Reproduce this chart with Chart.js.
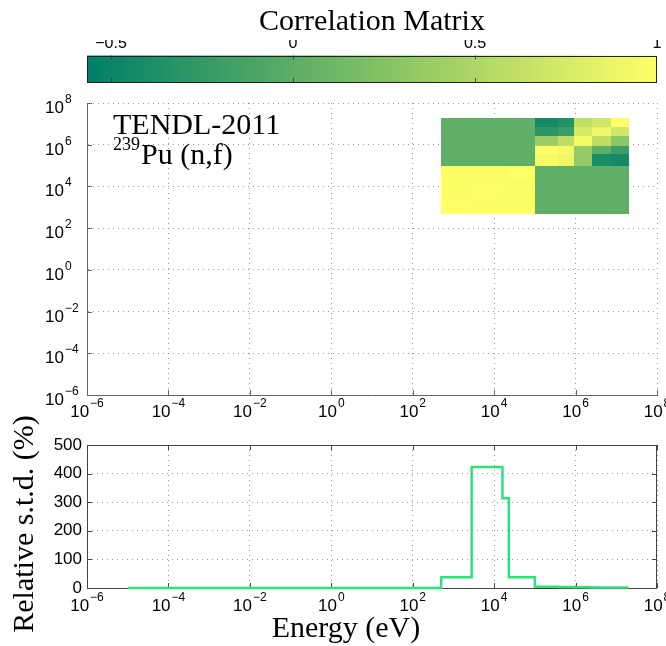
<!DOCTYPE html>
<html><head><meta charset="utf-8">
<script src="https://cdn.jsdelivr.net/npm/chart.js@4/dist/chart.umd.min.js"></script>
<style>
html,body{margin:0;padding:0;background:#fff;}
#wrap{position:relative;width:666px;height:646px;background:#fff;}
canvas{position:absolute;left:0;top:0;}
</style></head><body>
<div id="wrap">
<canvas id="cbar" width="666" height="646"></canvas>
<canvas id="main" width="666" height="646"></canvas>
<canvas id="bottom" width="666" height="646"></canvas>
</div>
<script>
// ---------------- data ----------------
const energyEdges = [1e-5, 500, 2800, 16000, 23000, 1e5, 3.7e5, 9e5, 2.5e6, 7.3e6, 2e7];
const relStd      = [0, 37.5, 423.5, 313.7, 37.5, 4, 3.5, 2.5, 2, 1.5];
const covEdges    = [500, 2800, 16000, 23000, 1e5, 3.7e5, 9e5, 2.5e6, 7.3e6, 2e7];
// correlation[i][j]: i = y group (low -> high energy), j = x group
const correlation = [
  [1.00, 0.99, 0.99, 0.99, 0.02, 0.02, 0.02, 0.02, 0.02],
  [0.99, 1.00, 0.99, 0.99, 0.02, 0.02, 0.02, 0.02, 0.02],
  [0.99, 0.99, 1.00, 0.99, 0.02, 0.02, 0.02, 0.02, 0.02],
  [0.99, 0.99, 0.99, 1.00, 0.02, 0.02, 0.02, 0.02, 0.02],
  [0.02, 0.02, 0.02, 0.02, 0.95, 0.90, 0.35, -0.40, -0.45],
  [0.02, 0.02, 0.02, 0.02, 1.00, 0.95, 0.35, 0.00, -0.20],
  [0.02, 0.02, 0.02, 0.02, 0.40, 0.60, 0.95, 0.60, 0.30],
  [0.02, 0.02, 0.02, 0.02, -0.30, -0.20, 0.75, 0.90, 0.70],
  [0.02, 0.02, 0.02, 0.02, -0.45, -0.35, 0.60, 0.70, 1.00]
];
const cbarMin = -0.566, cbarMax = 1.0;
const colorbarTicks = [-0.5, 0, 0.5, 1];
const xTickExponents = [-6, -4, -2, 0, 2, 4, 6, 8];
const yTickExponents = [-6, -4, -2, 0, 2, 4, 6, 8];
const stdTicks = [0, 100, 200, 300, 400, 500];
const titleText = 'Correlation Matrix';
const libText = 'TENDL-2011';
const massText = '239';
const reactionText = 'Pu (n,f)';
const xLabelText = 'Energy (eV)';
const yLabelText = 'Relative s.t.d. (%)';

// ---------------- helpers ----------------
const SANS = "'Liberation Sans', Arial, sans-serif";
const SERIF = "'Liberation Serif', 'Times New Roman', serif";
const BASE_FONT = "17px " + SANS;
const SUP_FONT = "12px " + SANS;
const GRID_COLOR = 'rgba(110,110,110,0.7)';
const GRID_DASH = [1, 4];

function summer(v) {
  let t = (v - cbarMin) / (cbarMax - cbarMin);
  t = Math.max(0, Math.min(1, t));
  return 'rgb(' + Math.round(255 * t) + ',' + Math.round(255 * (0.5 + 0.5 * t)) + ',102)';
}
function drawPower(ctx, exp, x, baseY, align) {
  const base = '10';
  const sup = (exp < 0 ? '\u2212' : '') + Math.abs(exp);
  ctx.font = BASE_FONT; const wb = ctx.measureText(base).width;
  ctx.font = SUP_FONT; const ws = ctx.measureText(sup).width;
  const x0 = align === 'center' ? x - (wb + ws + 1) / 2 : x;
  ctx.fillStyle = '#000';
  ctx.textAlign = 'left'; ctx.textBaseline = 'alphabetic';
  ctx.font = BASE_FONT; ctx.fillText(base, x0, baseY);
  ctx.font = SUP_FONT; ctx.fillText(sup, x0 + wb + 1, baseY - 10);
}
function logTicks(exps) {
  return function (scale) { scale.ticks = exps.map(e => ({ value: Math.pow(10, e) })); };
}
function inwardTicks(ctx, scale, area, sides, len, color) {
  ctx.save();
  ctx.strokeStyle = color; ctx.lineWidth = 1; ctx.beginPath();
  scale.ticks.forEach(t => {
    const p = Math.round(scale.getPixelForValue(t.value)) + 0.5;
    if (scale.isHorizontal()) {
      if (sides.includes('bottom')) { ctx.moveTo(p, area.bottom); ctx.lineTo(p, area.bottom - len); }
      if (sides.includes('top')) { ctx.moveTo(p, area.top); ctx.lineTo(p, area.top + len); }
    } else {
      if (sides.includes('left')) { ctx.moveTo(area.left, p); ctx.lineTo(area.left + len, p); }
      if (sides.includes('right')) { ctx.moveTo(area.right, p); ctx.lineTo(area.right - len, p); }
    }
  });
  ctx.stroke(); ctx.restore();
}

// ---------------- colorbar ----------------
const cbarPlugin = {
  id: 'cbarPlugin',
  beforeDatasetsDraw(chart) {
    const { ctx, chartArea: a, scales: { x } } = chart;
    ctx.save();
    for (let px = Math.floor(a.left); px < Math.ceil(a.right); px++) {
      ctx.fillStyle = summer(x.getValueForPixel(px + 0.5));
      ctx.fillRect(px, a.top, 1, a.bottom - a.top);
    }
    ctx.strokeStyle = '#222'; ctx.lineWidth = 1;
    ctx.strokeRect(Math.round(a.left) + 0.5, Math.round(a.top) + 0.5, Math.round(a.right - a.left) - 1, Math.round(a.bottom - a.top) - 1);
    ctx.beginPath();
    colorbarTicks.forEach(v => {
      const p = Math.round(x.getPixelForValue(v)) + 0.5;
      if (v >= cbarMax) return;
      ctx.moveTo(p, a.top); ctx.lineTo(p, a.top + 4);
      ctx.moveTo(p, a.bottom); ctx.lineTo(p, a.bottom - 4);
    });
    ctx.strokeStyle = 'rgba(30,60,40,0.8)';
    ctx.stroke();
    ctx.restore();
  }
};
new Chart(document.getElementById('cbar'), {
  type: 'scatter',
  data: { datasets: [{ data: [] }] },
  options: {
    responsive: false, animation: false, devicePixelRatio: 1,
    layout: { padding: { left: 87, right: 9, top: 0, bottom: 564 } },
    plugins: {
      legend: { display: false }, tooltip: { enabled: false },
      title: { display: true, text: titleText, fullSize: false, color: '#000',
        font: { family: SERIF, size: 30, weight: 'normal' }, padding: { top: 4, bottom: 0 } }
    },
    scales: {
      x: { type: 'linear', position: 'top', min: cbarMin, max: cbarMax,
        afterBuildTicks: (s) => { s.ticks = colorbarTicks.map(v => ({ value: v })); },
        afterFit: (s) => { s.height = 15.5; },
        grid: { display: false, drawTicks: false }, border: { display: false },
        ticks: { color: '#000', padding: 2, font: { family: SANS, size: 16 },
          callback: (v) => (v < 0 ? '\u2212' + Math.abs(v) : String(v)) } },
      y: { display: false, min: 0, max: 1 }
    }
  },
  plugins: [cbarPlugin]
});

// ---------------- main (correlation) plot ----------------
const mainPlugin = {
  id: 'mainPlugin',
  beforeDatasetsDraw(chart) {
    const { ctx, scales: { x, y } } = chart;
    ctx.save();
    for (let i = 0; i < correlation.length; i++) {
      const y0 = Math.round(y.getPixelForValue(covEdges[i]));
      const y1 = Math.round(y.getPixelForValue(covEdges[i + 1]));
      for (let j = 0; j < correlation[i].length; j++) {
        const x0 = Math.round(x.getPixelForValue(covEdges[j]));
        const x1 = Math.round(x.getPixelForValue(covEdges[j + 1]));
        ctx.fillStyle = summer(correlation[i][j]);
        ctx.fillRect(Math.min(x0, x1), Math.min(y0, y1), Math.abs(x1 - x0), Math.abs(y1 - y0));
      }
    }
    ctx.restore();
  },
  afterDraw(chart) {
    const { ctx, chartArea: a, scales: { x, y } } = chart;
    inwardTicks(ctx, x, a, ['bottom'], 5, '#666');
    inwardTicks(ctx, y, a, ['left'], 5, '#666');
    x.ticks.forEach(t => drawPower(ctx, Math.round(Math.log10(t.value)), x.getPixelForValue(t.value), a.bottom + 22, 'center'));
    y.ticks.forEach(t => drawPower(ctx, Math.round(Math.log10(t.value)), 45, y.getPixelForValue(t.value) + 10, 'left'));
    ctx.save();
    ctx.fillStyle = '#000'; ctx.textAlign = 'left'; ctx.textBaseline = 'alphabetic';
    ctx.font = '30px ' + SERIF;
    ctx.fillText(libText, a.left + 26, a.top + 31);
    ctx.font = '18px ' + SERIF;
    ctx.fillText(massText, a.left + 26, a.top + 47);
    const wm = ctx.measureText(massText).width;
    ctx.font = '30px ' + SERIF;
    ctx.fillText(reactionText, a.left + 26 + wm + 1, a.top + 61);
    ctx.restore();
  }
};
new Chart(document.getElementById('main'), {
  type: 'scatter',
  data: { datasets: [{ data: [] }] },
  options: {
    responsive: false, animation: false, devicePixelRatio: 1,
    layout: { padding: { left: 87, right: 9, top: 103, bottom: 251 } },
    plugins: { legend: { display: false }, tooltip: { enabled: false } },
    scales: {
      x: { type: 'logarithmic', min: 1e-6, max: 1e8,
        afterBuildTicks: logTicks(xTickExponents), afterFit: (s) => { s.height = 0; },
        ticks: { display: false },
        grid: { color: GRID_COLOR, drawTicks: false, tickLength: 0 },
        border: { display: true, color: '#666', width: 1, dash: GRID_DASH } },
      y: { type: 'logarithmic', min: 1e-6, max: 1e8,
        afterBuildTicks: logTicks(yTickExponents), afterFit: (s) => { s.width = 0; },
        ticks: { display: false },
        grid: { color: GRID_COLOR, drawTicks: false, tickLength: 0 },
        border: { display: true, color: '#666', width: 1, dash: GRID_DASH } }
    }
  },
  plugins: [mainPlugin]
});

// ---------------- bottom (relative std) plot ----------------
const stdPoints = relStd.map((v, k) => ({ x: energyEdges[k], y: v }));
stdPoints.push({ x: energyEdges[energyEdges.length - 1], y: relStd[relStd.length - 1] });

const bottomPlugin = {
  id: 'bottomPlugin',
  beforeDatasetsDraw(chart) {
    const { ctx, chartArea: a, scales: { x, y } } = chart;
    ctx.save();
    ctx.strokeStyle = '#444'; ctx.lineWidth = 1;
    ctx.strokeRect(Math.round(a.left) + 0.5, Math.round(a.top) + 0.5, Math.round(a.right - a.left) - 1, Math.round(a.bottom - a.top));
    ctx.restore();
    inwardTicks(ctx, x, a, ['bottom', 'top'], 5, '#444');
    inwardTicks(ctx, y, a, ['left', 'right'], 5, '#444');
  },
  afterDraw(chart) {
    const { ctx, chartArea: a, scales: { x } } = chart;
    x.ticks.forEach(t => drawPower(ctx, Math.round(Math.log10(t.value)), x.getPixelForValue(t.value), a.bottom + 23, 'center'));
    ctx.save();
    ctx.fillStyle = '#000'; ctx.textBaseline = 'alphabetic'; ctx.textAlign = 'center';
    ctx.font = '30px ' + SERIF;
    ctx.fillText(xLabelText, 346, a.bottom + 49);
    ctx.translate(33, 524); ctx.rotate(-Math.PI / 2);
    ctx.fillText(yLabelText, 0, 0);
    ctx.restore();
  }
};
new Chart(document.getElementById('bottom'), {
  type: 'line',
  data: { datasets: [{ data: stdPoints, borderColor: 'rgb(46,226,120)', borderWidth: 2.5,
    pointRadius: 0, stepped: true, fill: false, clip: false, tension: 0 }] },
  options: {
    responsive: false, animation: false, devicePixelRatio: 1,
    layout: { padding: { left: 0, right: 9, top: 445, bottom: 58 } },
    plugins: { legend: { display: false }, tooltip: { enabled: false } },
    scales: {
      x: { type: 'logarithmic', min: 1e-6, max: 1e8,
        afterBuildTicks: logTicks(xTickExponents), afterFit: (s) => { s.height = 0; },
        ticks: { display: false },
        grid: { color: GRID_COLOR, drawTicks: false, tickLength: 0 },
        border: { display: false, dash: GRID_DASH } },
      y: { type: 'linear', min: 0, max: 500,
        afterBuildTicks: (s) => { s.ticks = stdTicks.map(v => ({ value: v })); },
        afterFit: (s) => { s.width = 87; },
        ticks: { color: '#000', padding: 5, font: { family: SANS, size: 17 } },
        grid: { color: GRID_COLOR, drawTicks: false, tickLength: 0 },
        border: { display: false, dash: GRID_DASH } }
    }
  },
  plugins: [bottomPlugin]
});
</script>
</body></html>
